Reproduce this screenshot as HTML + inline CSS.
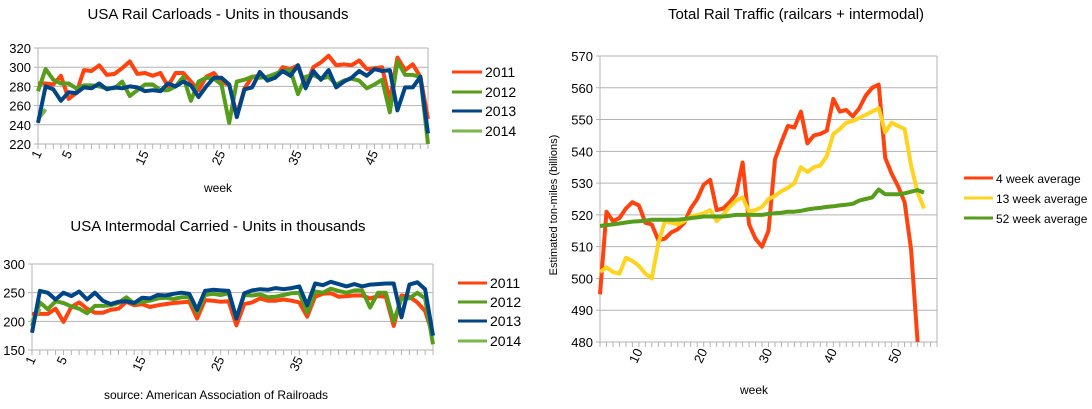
<!DOCTYPE html>
<html><head><meta charset="utf-8">
<style>
body{margin:0;background:#fff;}
svg{display:block;font-family:"Liberation Sans",sans-serif;}
</style></head>
<body>
<svg id="s" width="1092" height="409" viewBox="0 0 1092 409" xmlns="http://www.w3.org/2000/svg"></svg>
<script>
// ---------- data ----------
const carWeeks = Array.from({length:52},(_,i)=>i+1);
const car2011 = [283,283,282,291,267,273,297,296,302,292,293,299,306,293,294,291,294,280,294,294,285,276,290,294,284,282,250,278,290,291,288,289,300,298,302,280,300,305,312,302,303,302,307,298,299,300,265,310,297,303,290,246];
const car2012 = [275,298,287,283,283,278,281,281,280,278,278,285,270,276,282,282,276,276,280,290,265,285,289,288,282,242,285,287,290,289,290,293,296,297,272,290,292,288,290,282,286,288,286,278,282,287,253,306,292,292,290,220];
const car2013 = [242,280,277,265,274,273,279,278,283,277,279,278,280,279,275,276,275,283,280,285,281,269,280,289,289,282,248,277,279,295,286,289,296,291,302,278,296,287,297,279,285,289,296,291,298,296,297,255,279,279,290,231];
const car2014 = [246,256];
const carTicks = [220,240,260,280,300,320];
const weekLabelsSmall = [1,5,15,25,35,45];

const int2011 = [213,213,213,222,199,225,233,222,215,215,220,222,234,228,230,225,228,230,232,233,234,205,237,236,234,235,193,230,233,240,236,236,238,236,233,208,243,248,249,243,244,245,245,240,244,243,192,245,243,233,218,175];
const int2012 = [192,233,221,235,232,226,222,214,227,227,228,232,242,231,234,236,240,241,239,242,242,215,246,248,246,249,205,246,245,247,242,243,246,249,250,215,252,250,257,253,250,254,254,224,250,250,200,240,240,250,240,160];
const int2013 = [180,253,250,238,250,244,252,238,250,236,230,234,235,232,241,240,246,245,248,250,248,220,253,255,254,253,205,249,254,256,255,258,256,258,261,228,266,263,269,265,261,265,261,264,265,266,266,207,264,268,256,175];
const int2014 = [200,222];
const intTicks = [150,200,250,300];
const intWeekLabels = [1,5,15,25,35];

const totStartWeek = 4;
const tot4 = [495,521,518,519,522,524,523,517.5,517,512,512.5,514.5,515.5,517.5,522,525,529.5,531,521.5,522,524,526.5,536.5,517,512.5,510,515,537.5,543,548,547.5,552.5,542.5,545,545.5,546.5,556.5,552.5,553,551,553.5,557.5,560,561,538,533,529,524,509,480];
const tot13 = [502,503.5,502,501.5,506.5,505.5,504,501.5,500,511,518,517.5,517,518,519.5,520,520.5,521.5,518,520,522.5,524.5,525.5,521,521.5,522.5,525,526,527.5,528.5,530,535,533.5,535,535.5,538.5,545.5,547,549,549.5,550.5,551.5,552.5,553.5,546,549,548,547,535.5,527,522];
const tot52 = [516.5,516.8,517,517.3,517.6,517.9,518,518.2,518.5,518.5,518.5,518.5,518.5,518.7,519,519.2,519.5,519.5,519.5,519.5,519.7,520,520,520,520,520,520.3,520.5,520.7,521,521,521.3,521.7,522,522.2,522.5,522.7,523,523.2,523.5,524.5,525,525.5,528,526.5,526.5,526.5,526.8,527.3,527.8,527];
const totTicks = [480,490,500,510,520,530,540,550,560,570];
const totWeekLabels = [10,20,30,40,50];

// ---------- helpers ----------
const NS="http://www.w3.org/2000/svg";
const svg=document.getElementById('s');
function mk(tag,attrs,parent){const e=document.createElementNS(NS,tag);for(const k in attrs)e.setAttribute(k,attrs[k]);(parent||svg).appendChild(e);return e;}
function txt(x,y,s,size,anchor,extra){const t=mk('text',Object.assign({x:x,y:y,'font-size':size,'text-anchor':anchor||'start',fill:'#000'},extra||{}));t.textContent=s;return t;}

function chart(cfg){
  const g=mk('g',{});
  
  
  const X=w=>cfg.x0+(w-cfg.w0)*(cfg.x1-cfg.x0)/(cfg.w1-cfg.w0);
  const Y=v=>cfg.y1-(v-cfg.vmin)*(cfg.y1-cfg.y0)/(cfg.vmax-cfg.vmin);
  cfg.ticks.forEach(v=>{
    const l=mk('line',{x1:cfg.x0-4,x2:cfg.x1,y1:Y(v),y2:Y(v),stroke:'#b3b3b3','stroke-width':1},g);
    
    
    const t=txt(cfg.x0-7,Y(v)+5,String(v),cfg.fs,'end');g.appendChild(t);
    
    
  });
  mk('line',{x1:cfg.x0,x2:cfg.x0,y1:cfg.y0,y2:cfg.y1,stroke:'#b3b3b3'},g);
  mk('line',{x1:cfg.x1,x2:cfg.x1,y1:cfg.y0,y2:cfg.y1,stroke:'#b3b3b3'},g);
  for(let w=cfg.tw0;w<=cfg.tw1;w++){mk('line',{x1:X(w),x2:X(w),y1:cfg.y1,y2:cfg.y1+5,stroke:'#b3b3b3'},g);}
  cfg.xlabels.forEach(w=>{
    const x=X(w)+4,y=cfg.y1+9;
    const t=txt(x,y,String(w),cfg.fs,'end',{transform:`rotate(-65 ${x} ${y})`});g.appendChild(t);
    
    
  });
  cfg.series.forEach(s=>{
    const pts=s.data.map((v,i)=>X(s.start+i).toFixed(1)+','+Y(Math.max(v,cfg.vmin)).toFixed(1)).join(' ');
    const p=mk('polyline',{points:pts,fill:'none',stroke:s.color,'stroke-width':cfg.lw,'stroke-linejoin':'round'},g);
    
    
  });
}

chart({name:'carloads-chart',x0:38,x1:428,y0:48,y1:144,w0:1,w1:52,tw0:1,tw1:52,vmin:220,vmax:320,ticks:carTicks,xlabels:weekLabelsSmall,fs:13,lw:4,
  series:[{name:'carloads-2011-line',data:car2011,start:1,color:'#ff420e'},{name:'carloads-2012-line',data:car2012,start:1,color:'#579d1c'},{name:'carloads-2014-line',data:car2014,start:1,color:'#7ab648'},{name:'carloads-2013-line',data:car2013,start:1,color:'#004586'}]});
chart({name:'intermodal-chart',x0:32,x1:433,y0:264,y1:350,w0:1,w1:52,tw0:1,tw1:52,vmin:150,vmax:300,ticks:intTicks,xlabels:intWeekLabels,fs:13,lw:4,
  series:[{name:'intermodal-2011-line',data:int2011,start:1,color:'#ff420e'},{name:'intermodal-2012-line',data:int2012,start:1,color:'#579d1c'},{name:'intermodal-2014-line',data:int2014,start:1,color:'#7ab648'},{name:'intermodal-2013-line',data:int2013,start:1,color:'#004586'}]});
chart({name:'total-traffic-chart',x0:600,x1:937,y0:56,y1:342,w0:4,w1:56,tw0:4,tw1:56,vmin:480,vmax:570,ticks:totTicks,xlabels:totWeekLabels,fs:13,lw:4,
  series:[{name:'four-week-average-line',data:tot4,start:totStartWeek,color:'#ff420e'},{name:'thirteen-week-average-line',data:tot13,start:totStartWeek,color:'#ffd320'},{name:'fifty-two-week-average-line',data:tot52,start:totStartWeek,color:'#579d1c'}]});

function label(x,y,s,size,anchor,name,extra){const t=txt(x,y,s,size,anchor,extra);}
label(218,19,'USA Rail Carloads - Units in thousands',15,'middle','carloads-title');
label(218,192,'week',12,'middle','carloads-x-axis-title');
label(218,231,'USA Intermodal Carried - Units in thousands',15,'middle','intermodal-title');
label(216,399,'source: American Association of Railroads',12,'middle','source-note');
label(796,19,'Total Rail Traffic (railcars + intermodal)',15,'middle','total-traffic-title');
label(754,394,'week',12,'middle','total-x-axis-title');
label(557,205,'Estimated ton-miles (billions)',11,'middle','total-y-axis-title',{transform:'rotate(-90 557 205)'});

function legend(items,lx1,lx2,tx,ys,fs,prefix){
  items.forEach((it,i)=>{
    const g=mk('g',{});
    
    
    mk('line',{x1:lx1,x2:lx2,y1:ys[i],y2:ys[i],stroke:it[1],'stroke-width':3},g);
    g.appendChild(txt(tx,ys[i]+5,it[0],fs,'start'));
  });
}
legend([['2011','#ff420e'],['2012','#579d1c'],['2013','#004586'],['2014','#7ab648']],452,482,485,[72,92,111,131],14,'carloads');
legend([['2011','#ff420e'],['2012','#579d1c'],['2013','#004586'],['2014','#7ab648']],458,487,490,[283,302,321,341],14,'intermodal');
legend([['4 week average','#ff420e'],['13 week average','#ffd320'],['52 week average','#579d1c']],964,993,996,[178,198,218],12,'total');
</script>
</body></html>
